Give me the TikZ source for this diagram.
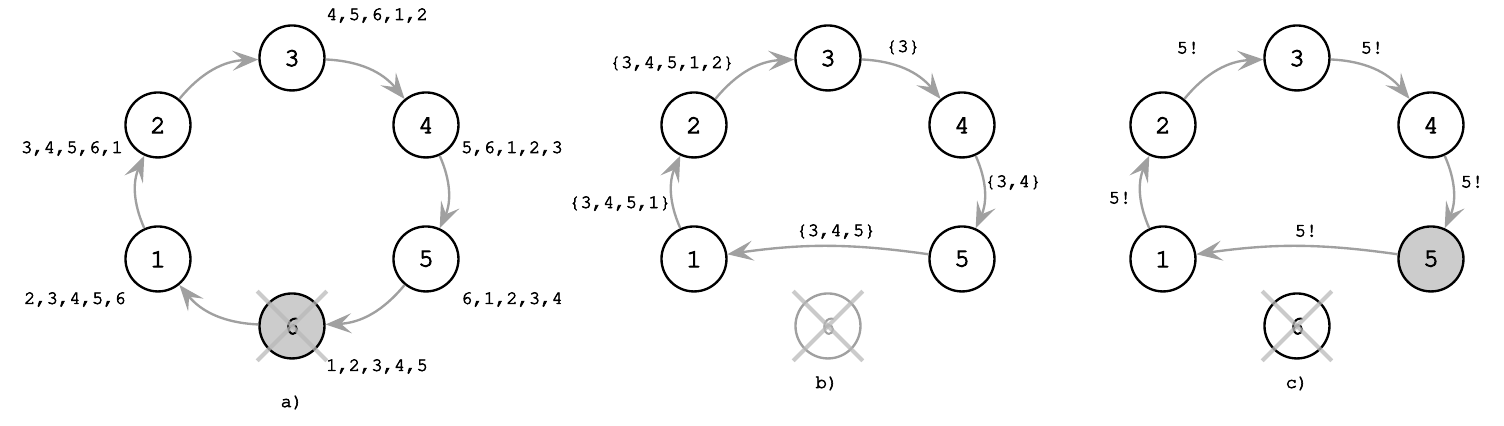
\documentclass[tikz,border=0pt]{standalone}
\usepackage[T1]{fontenc}
\usepackage{courier}
\usetikzlibrary{arrows.meta}
\definecolor{edgegray}{RGB}{160,160,160}
\definecolor{fillgray}{RGB}{204,204,204}
\definecolor{crossgray}{RGB}{185,185,185}
\begin{document}
\begin{tikzpicture}[
  proc/.style={circle,draw=black,line width=1pt,fill=white,minimum size=0.97cm,inner sep=0pt,font=\ttfamily\fontsize{11}{12}\selectfont,execute at begin node={\special{pdf:literal direct 2 Tr 0.4 w}},execute at end node={\special{pdf:literal direct 0 Tr}}},
  failed/.style={proc,fill=fillgray},
  ghost/.style={proc,draw=edgegray,text=edgegray},
  lab/.style={font=\ttfamily\fontsize{8}{10}\selectfont,inner sep=0pt,execute at begin node={\special{pdf:literal direct 2 Tr 0.25 w}},execute at end node={\special{pdf:literal direct 0 Tr}}},
  msg/.style={draw=edgegray,line width=1pt,-{Stealth[length=11pt,width=8.5pt,inset=4.5pt]}},
  xline/.style={draw=crossgray,line width=1.7pt,opacity=0.75},
]
\useasboundingbox (0,0) rectangle (22.448,6.358);

% ---------------- panel a ----------------
\node[proc] (a1) at (2.358,2.493) {1};
\node[proc] (a2) at (2.358,4.493) {2};
\node[proc] (a3) at (4.358,5.493) {3};
\node[proc] (a4) at (6.358,4.493) {4};
\node[proc] (a5) at (6.358,2.493) {5};
\node[failed] (a6) at (4.358,1.493) {6};
\draw[msg] (a1) to[bend left=24] (a2);
\draw[msg] (a2) to[bend left=24] (a3);
\draw[msg] (a3) to[bend left=24] (a4);
\draw[msg] (a4) to[bend left=24] (a5);
\draw[msg] (a5) to[bend left=24] (a6);
\draw[msg] (a6) to[bend left=24] (a1);
\draw[xline] ([shift={(-0.52,-0.52)}]a6.center) -- ([shift={(0.52,0.52)}]a6.center);
\draw[xline] ([shift={(-0.52,0.52)}]a6.center) -- ([shift={(0.52,-0.52)}]a6.center);
\node[lab] (la3) at (5.627,6.134) {4,5,6,1,2};
\node[lab] (la2) at (1.075,4.149) {3,4,5,6,1};
\node[lab] (la4) at (7.642,4.149) {5,6,1,2,3};
\node[lab] (la1) at (1.119,1.896) {2,3,4,5,6};
\node[lab] (la5) at (7.642,1.896) {6,1,2,3,4};
\node[lab] (la6) at (5.627,0.896) {1,2,3,4,5};
\node[lab] (capa) at (4.358,0.358) {a)};

% ---------------- panel b ----------------
\node[proc] (b1) at (10.358,2.493) {1};
\node[proc] (b2) at (10.358,4.493) {2};
\node[proc] (b3) at (12.358,5.493) {3};
\node[proc] (b4) at (14.358,4.493) {4};
\node[proc] (b5) at (14.358,2.493) {5};
\node[ghost] (b6) at (12.358,1.493) {6};
\draw[msg] (b1) to[bend left=24] (b2);
\draw[msg] (b2) to[bend left=24] (b3);
\draw[msg] (b3) to[bend left=24] (b4);
\draw[msg] (b4) to[bend left=24] (b5);
\draw[msg] (b5) to[bend right=8] (b1);
\draw[xline] ([shift={(-0.52,-0.52)}]b6.center) -- ([shift={(0.52,0.52)}]b6.center);
\draw[xline] ([shift={(-0.52,0.52)}]b6.center) -- ([shift={(0.52,-0.52)}]b6.center);
\node[lab] (lb23) at (10.03,5.418) {\{3,4,5,1,2\}};
\node[lab] (lb34) at (13.478,5.657) {\{3\}};
\node[lab] (lb45) at (15.12,3.642) {\{3,4\}};
\node[lab] (lb12) at (9.254,3.328) {\{3,4,5,1\}};
\node[lab] (lb51) at (12.478,2.91) {\{3,4,5\}};
\node[lab] (capb) at (12.343,0.642) {b)};

% ---------------- panel c ----------------
\node[proc] (c1) at (17.358,2.493) {1};
\node[proc] (c2) at (17.358,4.493) {2};
\node[proc] (c3) at (19.358,5.493) {3};
\node[proc] (c4) at (21.358,4.493) {4};
\node[failed] (c5) at (21.358,2.493) {5};
\node[proc] (c6) at (19.358,1.493) {6};
\draw[msg] (c1) to[bend left=24] (c2);
\draw[msg] (c2) to[bend left=24] (c3);
\draw[msg] (c3) to[bend left=24] (c4);
\draw[msg] (c4) to[bend left=24] (c5);
\draw[msg] (c5) to[bend right=8] (c1);
\draw[xline] ([shift={(-0.52,-0.52)}]c6.center) -- ([shift={(0.52,0.52)}]c6.center);
\draw[xline] ([shift={(-0.52,0.52)}]c6.center) -- ([shift={(0.52,-0.52)}]c6.center);
\node[lab] (lc23) at (17.731,5.642) {5!};
\node[lab] (lc34) at (20.478,5.642) {5!};
\node[lab] (lc45) at (21.97,3.642) {5!};
\node[lab] (lc12) at (16.716,3.403) {5!};
\node[lab] (lc51) at (19.493,2.91) {5!};
\node[lab] (capc) at (19.358,0.642) {c)};
\end{tikzpicture}
\end{document}
